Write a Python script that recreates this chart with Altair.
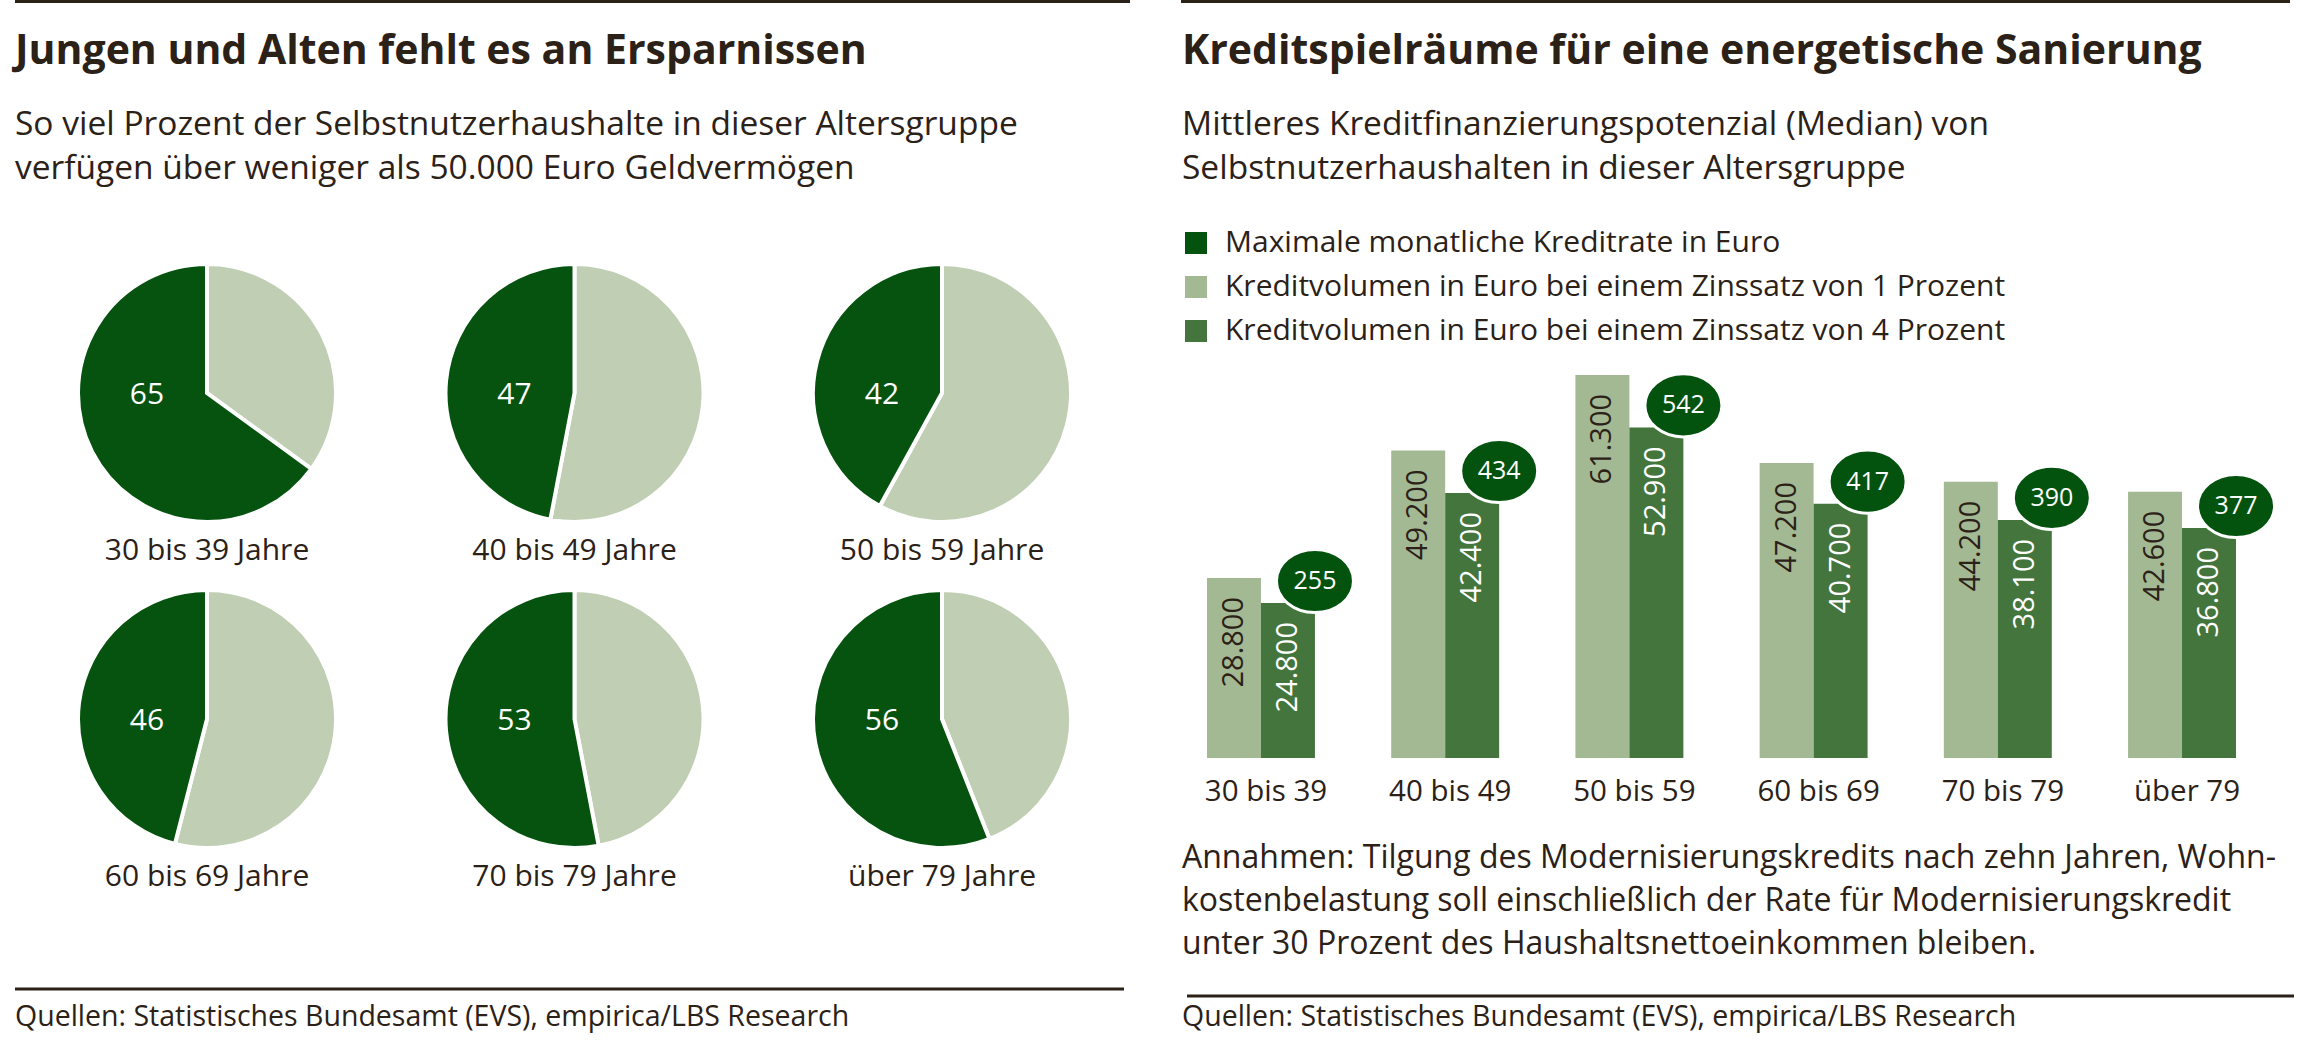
import altair as alt
import pandas as pd

# ---------------- data ----------------
pie_groups = ["30 bis 39", "40 bis 49", "50 bis 59", "60 bis 69", "70 bis 79", "über 79"]
pie_share = [65, 47, 42, 46, 53, 56]   # % with < 50.000 Euro Geldvermögen

bar_groups = ["30 bis 39", "40 bis 49", "50 bis 59", "60 bis 69", "70 bis 79", "über 79"]
rate = [255, 434, 542, 417, 390, 377]
vol_1pct = [28800, 49200, 61300, 47200, 44200, 42600]
vol_4pct = [24800, 42400, 52900, 40700, 38100, 36800]

series_names = [
    "Maximale monatliche Kreditrate in Euro",
    "Kreditvolumen in Euro bei einem Zinssatz von 1 Prozent",
    "Kreditvolumen in Euro bei einem Zinssatz von 4 Prozent",
]

left_title = "Jungen und Alten fehlt es an Ersparnissen"
left_sub = ["So viel Prozent der Selbstnutzerhaushalte in dieser Altersgruppe",
            "verfügen über weniger als 50.000 Euro Geldvermögen"]
right_title = "Kreditspielräume für eine energetische Sanierung"
right_sub = ["Mittleres Kreditfinanzierungspotenzial (Median) von",
             "Selbstnutzerhaushalten in dieser Altersgruppe"]
note_lines = ["Annahmen: Tilgung des Modernisierungskredits nach zehn Jahren, Wohn-",
              "kostenbelastung soll einschließlich der Rate für Modernisierungskredit",
              "unter 30 Prozent des Haushaltsnettoeinkommen bleiben."]
source = "Quellen: Statistisches Bundesamt (EVS), empirica/LBS Research"

# ---------------- style ----------------
TXT = "#2b2117"
FONT = "Open Sans"
PIE_DARK = "#05530f"
PIE_LIGHT = "#c0ceb4"
C_RATE = "#03530f"
C_1 = "#a3b994"
C_4 = "#43753d"

W, H = 1150, 1058


def text_layer(s, x, y, size, weight="normal", color=TXT, align="left", baseline="alphabetic"):
    return alt.Chart(pd.DataFrame({"t": [s]})).mark_text(
        align=align, baseline=baseline, font=FONT, fontSize=size,
        fontWeight=weight, color=color
    ).encode(x=alt.value(x), y=alt.value(y), text="t:N")


def rule_layer(x1, x2, y, width=3):
    return alt.Chart(pd.DataFrame({"a": [0]})).mark_rule(
        color=TXT, strokeWidth=width
    ).encode(x=alt.value(x1), x2=alt.value(x2), y=alt.value(y))


# ---------------- left panel: pies ----------------
rows = []
for i, (g, v) in enumerate(zip(pie_groups, pie_share)):
    col, row = i % 3, i // 3
    rows.append(dict(group=g, part="rest", start=0, end=100 - v, share=v, col=col, row=row,
                     label=g + " Jahre"))
    rows.append(dict(group=g, part="share", start=100 - v, end=100, share=v, col=col, row=row,
                     label=g + " Jahre"))
pie_df = pd.DataFrame(rows)

px = alt.X("col:Q", scale=alt.Scale(domain=[0, 2], range=[207, 942], nice=False, zero=False), axis=None)
py = alt.Y("row:Q", scale=alt.Scale(domain=[0, 1], range=[393, 719], nice=False, zero=False), axis=None)

arcs = alt.Chart(pie_df).mark_arc(radius=129, stroke="white", strokeWidth=4).encode(
    x=px, y=py,
    theta=alt.Theta("start:Q", scale=alt.Scale(domain=[0, 100], range=[0, 6.283185307179586]), stack=None),
    theta2="end:Q",
    color=alt.Color("part:N", scale=alt.Scale(domain=["share", "rest"], range=[PIE_DARK, PIE_LIGHT]), legend=None),
)
pie_vals = alt.Chart(pie_df).transform_filter("datum.part == 'share'").mark_text(
    font=FONT, fontSize=30, color="white", dx=-60, dy=2, baseline="middle", align="center"
).encode(x=px, y=py, text="share:Q")
pie_labels = alt.Chart(pie_df).transform_filter("datum.part == 'share'").mark_text(
    font=FONT, fontSize=30, color=TXT, dy=158, baseline="middle", align="center"
).encode(x=px, y=py, text="label:N")

left = alt.layer(
    rule_layer(15, 1130, 1.5),
    text_layer(left_title, 15, 64, 41, weight="bold"),
    text_layer(left_sub[0], 15, 135, 33.5),
    text_layer(left_sub[1], 15, 179, 33.5),
    arcs, pie_vals, pie_labels,
    rule_layer(15, 1124, 989),
    text_layer(source, 15, 1026, 28.5),
).properties(width=W, height=H)

# ---------------- right panel: bars ----------------
brows = []
for g, a, b in zip(bar_groups, vol_1pct, vol_4pct):
    brows.append(dict(group=g, series=series_names[1], value=a))
    brows.append(dict(group=g, series=series_names[2], value=b))
bar_df = pd.DataFrame(brows)
rate_df = pd.DataFrame({"group": bar_groups, "rate": rate, "vol4": vol_4pct})

bx = alt.X("group:N", sort=bar_groups,
           scale=alt.Scale(range=[57, 1086], paddingInner=0.414, paddingOuter=0), axis=None)
bxo = alt.XOffset("series:N", scale=alt.Scale(domain=series_names[1:], paddingInner=0))
by_scale = alt.Scale(domain=[0, 100000], range=[758, 133], nice=False)

bars = alt.Chart(bar_df).mark_bar().encode(
    x=bx, xOffset=bxo,
    y=alt.Y("value:Q", scale=by_scale, axis=None),
    color=alt.Color("series:N", scale=alt.Scale(domain=series_names, range=[C_RATE, C_1, C_4]),
                    legend=alt.Legend(orient="none", legendX=31, legendY=228, title=None,
                                      symbolType="square", symbolSize=484, symbolStrokeWidth=0,
                                      labelFont=FONT, labelFontSize=30, labelColor=TXT,
                                      labelOffset=14, rowPadding=14, padding=0, labelLimit=1500)),
)

fmt = "replace(format(datum.value, ','), ',', '.')"
lab1 = alt.Chart(bar_df).transform_filter(alt.datum.series == series_names[1]).transform_calculate(
    lab=fmt).mark_text(angle=270, align="right", baseline="middle", dx=-19, font=FONT,
                       fontSize=29, color=TXT).encode(
    x=bx, xOffset=bxo, y=alt.Y("value:Q", scale=by_scale, axis=None), text="lab:N")
lab4 = alt.Chart(bar_df).transform_filter(alt.datum.series == series_names[2]).transform_calculate(
    lab=fmt).mark_text(angle=270, align="right", baseline="middle", dx=-19, font=FONT,
                       fontSize=29, color="white").encode(
    x=bx, xOffset=bxo, y=alt.Y("value:Q", scale=by_scale, axis=None), text="lab:N")

ellipse = "M -1 0 A 1 0.82 0 1 0 1 0 A 1 0.82 0 1 0 -1 0 Z"
dots = alt.Chart(rate_df).mark_point(
    shape=ellipse, size=77 * 77, filled=True, fill=C_RATE, stroke="white", strokeWidth=3,
    opacity=1, fillOpacity=1, xOffset=54, yOffset=-22
).encode(x=bx, y=alt.Y("vol4:Q", scale=by_scale, axis=None))
dot_txt = alt.Chart(rate_df).mark_text(
    font=FONT, fontSize=25, color="white", dx=54, dy=-22, baseline="middle", align="center"
).encode(x=bx, y=alt.Y("vol4:Q", scale=by_scale, axis=None), text="rate:Q")

cats = alt.Chart(rate_df).mark_text(
    font=FONT, fontSize=29.5, color=TXT, baseline="middle", align="center", dx=5
).encode(x=bx, y=alt.value(792), text="group:N")

right = alt.layer(
    rule_layer(31, 1140, 1.5),
    text_layer(right_title, 32, 64, 41, weight="bold"),
    text_layer(right_sub[0], 32, 135, 33.5),
    text_layer(right_sub[1], 32, 179, 33.5),
    bars, lab1, lab4, dots, dot_txt, cats,
    text_layer(note_lines[0], 32, 868, 32),
    text_layer(note_lines[1], 32, 911, 32),
    text_layer(note_lines[2], 32, 954, 32),
    rule_layer(37, 1144, 996),
    text_layer(source, 32, 1026, 28.5),
).properties(width=W, height=H)

chart = alt.hconcat(left, right, spacing=0).resolve_scale(
    color="independent", x="independent", y="independent", xOffset="independent"
).properties(padding=0, background="white").configure_view(stroke=None)

chart.save("out.html", embed_options={"renderer": "svg", "actions": False})
